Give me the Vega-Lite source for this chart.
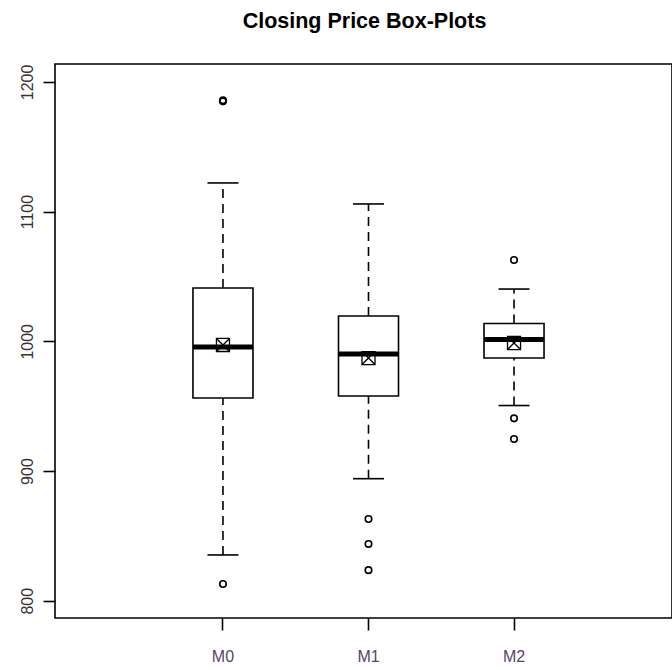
{
  "$schema": "https://vega.github.io/schema/vega-lite/v6.json",
  "width": 617,
  "height": 554,
  "padding": {"left": 55, "top": 64, "right": 0, "bottom": 52},
  "autosize": {"type": "none"},
  "background": "white",
  "config": {
    "view": {"stroke": "black", "strokeWidth": 1.6},
    "font": "Liberation Sans",
    "axisY": {"title": null, "grid": false, "domain": false, "labelAngle": -90, "labelAlign": "center", "labelBaseline": "alphabetic", "labelPadding": 11, "labelFontSize": 16, "labelColor": "#333333", "labelFont": "Liberation Sans", "tickSize": 12, "tickColor": "black", "tickWidth": 1.6},
    "axisX": {"title": null, "grid": false, "domain": false, "labelAngle": 0, "labelBaseline": "alphabetic", "labelPadding": 31, "labelFontSize": 16, "labelColor": "#5b3f6e", "labelFont": "Liberation Sans", "tickSize": 12, "tickColor": "black", "tickWidth": 1.6}
  },
  "title": {"text": "Closing Price Box-Plots", "font": "Liberation Sans", "fontSize": 21.5, "fontWeight": "bold", "color": "black", "anchor": "middle", "frame": "group", "baseline": "alphabetic", "offset": 15, "dx": 1},
  "datasets": {
    "stats": [
      {"group": "M0", "lower": 835.3, "q1": 956.3, "median": 995.6, "mean": 997.2, "q3": 1041.1, "upper": 1122.1},
      {"group": "M1", "lower": 894.1, "q1": 957.8, "median": 990.2, "mean": 987.1, "q3": 1019.5, "upper": 1105.9},
      {"group": "M2", "lower": 950.5, "q1": 987.1, "median": 1001.4, "mean": 998.7, "q3": 1013.7, "upper": 1040.3}
    ],
    "outliers": [
      {"group": "M0", "value": 1185.0},
      {"group": "M0", "value": 1185.8},
      {"group": "M0", "value": 812.9},
      {"group": "M1", "value": 863.0},
      {"group": "M1", "value": 843.8},
      {"group": "M1", "value": 823.6},
      {"group": "M2", "value": 1062.7},
      {"group": "M2", "value": 940.6},
      {"group": "M2", "value": 924.7}
    ]
  },
  "encoding": {
    "x": {"field": "group", "type": "nominal", "scale": {"domain": ["M0", "M1", "M2"], "range": [0, 627], "paddingInner": 0.5876, "paddingOuter": 0.948}}
  },
  "layer": [
    {
      "data": {"name": "stats"},
      "mark": {"type": "rule", "color": "black", "strokeWidth": 1.6, "strokeDash": [9, 6]},
      "encoding": {
        "y": {"field": "lower", "type": "quantitative", "scale": {"domain": [786.7, 1213.8], "nice": false, "zero": false}, "axis": {"values": [800, 900, 1000, 1100, 1200], "format": "d"}},
        "y2": {"field": "q1"}
      }
    },
    {
      "data": {"name": "stats"},
      "mark": {"type": "rule", "color": "black", "strokeWidth": 1.6, "strokeDash": [9, 6]},
      "encoding": {
        "y": {"field": "q3", "type": "quantitative"},
        "y2": {"field": "upper"}
      }
    },
    {
      "data": {"name": "stats"},
      "mark": {"type": "bar", "fill": "white", "stroke": "black", "strokeWidth": 1.6, "opacity": 1},
      "encoding": {
        "y": {"field": "q1", "type": "quantitative"},
        "y2": {"field": "q3"}
      }
    },
    {
      "data": {"name": "stats"},
      "mark": {"type": "tick", "color": "black", "size": 31, "thickness": 1.6, "opacity": 1},
      "encoding": {"y": {"field": "lower", "type": "quantitative"}}
    },
    {
      "data": {"name": "stats"},
      "mark": {"type": "tick", "color": "black", "size": 31, "thickness": 1.6, "opacity": 1},
      "encoding": {"y": {"field": "upper", "type": "quantitative"}}
    },
    {
      "data": {"name": "stats"},
      "mark": {"type": "tick", "color": "black", "size": 60, "thickness": 5, "opacity": 1},
      "encoding": {"y": {"field": "median", "type": "quantitative"}}
    },
    {
      "data": {"name": "stats"},
      "mark": {"type": "point", "shape": "M-1,-1L1,-1L1,1L-1,1Z M-1,-1L1,1 M1,-1L-1,1", "filled": false, "stroke": "black", "strokeWidth": 1.3, "size": 170, "opacity": 1},
      "encoding": {"y": {"field": "mean", "type": "quantitative"}}
    },
    {
      "data": {"name": "outliers"},
      "mark": {"type": "point", "shape": "circle", "filled": false, "stroke": "black", "strokeWidth": 1.6, "size": 42, "opacity": 1},
      "encoding": {"y": {"field": "value", "type": "quantitative"}}
    }
  ]
}
